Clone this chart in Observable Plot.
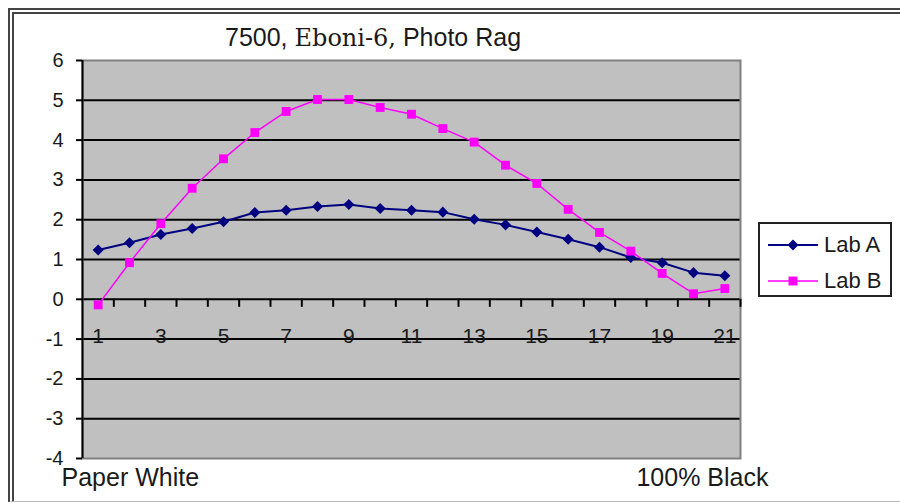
<!DOCTYPE html>
<html>
<head>
<meta charset="utf-8">
<script src="https://cdn.jsdelivr.net/npm/d3@7"></script>
<script src="https://cdn.jsdelivr.net/npm/@observablehq/plot@0.6"></script>
<style>
  html, body { margin: 0; padding: 0; background: #fff; }
  #wrap { position: relative; width: 900px; height: 504px; overflow: hidden; background: #fff;
          font-family: "Liberation Sans", Arial, sans-serif; color: #1a1a1a; }
  #wrap svg.chart { position: absolute; left: 0; top: 0; }
  #border { position: absolute; left: 8px; top: 8px; width: 920px; height: 494px; box-sizing: border-box;
            border-top: 6px double #444; border-left: 6px double #444; border-bottom: 1px solid #bbb; }
  #title { position: absolute; left: 225px; top: 25px; font-size: 25px; line-height: 25px; white-space: nowrap; color: #1a1a1a; }
  #title .serif { font-family: "DejaVu Serif", "Liberation Serif", serif; font-size: 24px; }
  #legend { position: absolute; left: 758px; top: 222px; width: 134px; height: 75px; box-sizing: border-box;
            border: 2px solid #222; background: #fff; }
  .lrow { position: absolute; left: 8px; height: 24px; display: flex; align-items: center; font-size: 22px; white-space: nowrap; }
  .lrow svg { margin-right: 4px; }
</style>
</head>
<body>
<div id="wrap">
  <div id="border"></div>
</div>
<script>
// ---- data ----
const categories = [1, 2, 3, 4, 5, 6, 7, 8, 9, 10, 11, 12, 13, 14, 15, 16, 17, 18, 19, 20, 21];
const labA = [1.24, 1.42, 1.63, 1.78, 1.95, 2.18, 2.24, 2.33, 2.38, 2.28, 2.24, 2.19, 2.01, 1.87, 1.69, 1.51, 1.31, 1.05, 0.92, 0.67, 0.59];
const labB = [-0.14, 0.92, 1.90, 2.79, 3.53, 4.19, 4.72, 5.02, 5.02, 4.82, 4.65, 4.29, 3.95, 3.37, 2.91, 2.26, 1.68, 1.21, 0.65, 0.14, 0.27];
const seriesNames = ["Lab A", "Lab B"];
const seriesColors = ["#000080", "#ff00ff"];
const yTicks = [-4, -3, -2, -1, 0, 1, 2, 3, 4, 5, 6];
const xTickLabels = [1, 3, 5, 7, 9, 11, 13, 15, 17, 19, 21];
const titleParts = ["7500, ", "Eboni-6,", " Photo Rag"];
const endLabels = ["Paper White", "100% Black"];

// ---- derived tables ----
const dataA = categories.map((c, i) => ({x: c, y: labA[i]}));
const dataB = categories.map((c, i) => ({x: c, y: labB[i]}));
const boundaries = categories.map(c => c + 0.5);
const gridVals = yTicks.filter(v => v > d3.min(yTicks) && v < d3.max(yTicks));

const chart = Plot.plot({
  width: 900,
  height: 504,
  marginLeft: 82,
  marginRight: 160,
  marginTop: 60,
  marginBottom: 46,
  x: {type: "linear", domain: [d3.min(categories) - 0.5, d3.max(categories) + 0.5], axis: null},
  y: {domain: [d3.min(yTicks), d3.max(yTicks)], axis: null},
  style: {fontFamily: "'Liberation Sans', Arial, sans-serif", background: "transparent", color: "#1a1a1a", overflow: "visible"},
  marks: [
    Plot.frame({fill: "#c0c0c0"}),
    Plot.ruleY(gridVals, {stroke: "#000", strokeWidth: 2}),
    Plot.frame({stroke: "#808080", strokeWidth: 2}),
    Plot.ruleX([d3.min(categories) - 0.5], {stroke: "#000", strokeWidth: 2}),
    Plot.axisY({ticks: yTicks, tickSize: 6, tickPadding: 13, fontSize: 20, stroke: "#000", strokeWidth: 2, label: null, tickFormat: d => String(d)}),
    Plot.ruleX(boundaries, {x: d => d, y1: 0, y2: 0, insetBottom: -8, stroke: "#000", strokeWidth: 2}),
    Plot.text(xTickLabels, {x: d => d, y: 0, dy: 37, text: d => String(d), fontSize: 21, fill: "#1a1a1a"}),
    Plot.line(dataA, {x: "x", y: "y", stroke: seriesColors[0], strokeWidth: 2}),
    Plot.dot(dataA, {x: "x", y: "y", symbol: "square", rotate: 45, r: 4.4, fill: seriesColors[0], stroke: "none"}),
    Plot.line(dataB, {x: "x", y: "y", stroke: seriesColors[1], strokeWidth: 1.5}),
    Plot.dot(dataB, {x: "x", y: "y", symbol: "square", r: 5, fill: seriesColors[1], stroke: "none"}),
    Plot.text([endLabels[0]], {text: d => d, frameAnchor: "bottom-left", dx: -21, dy: 27, textAnchor: "start", fontSize: 25, fill: "#1a1a1a"}),
    Plot.text([endLabels[1]], {text: d => d, frameAnchor: "bottom-right", dx: 28, dy: 27, textAnchor: "end", fontSize: 25, fill: "#1a1a1a"})
  ]
});
chart.classList.add("chart");
const wrap = document.getElementById("wrap");
wrap.insertBefore(chart, wrap.firstChild);

// ---- title ----
const title = document.createElement("div");
title.id = "title";
titleParts.forEach((t, i) => {
  const s = document.createElement("span");
  if (i === 1) s.className = "serif";
  s.textContent = t;
  title.appendChild(s);
});
wrap.appendChild(title);

// ---- legend ----
const legend = document.createElement("div");
legend.id = "legend";
seriesNames.forEach((name, i) => {
  const row = document.createElement("div");
  row.className = "lrow";
  row.style.top = (9 + i * 36) + "px";
  const ns = "http://www.w3.org/2000/svg";
  const svg = document.createElementNS(ns, "svg");
  svg.setAttribute("width", 52);
  svg.setAttribute("height", 16);
  const line = document.createElementNS(ns, "line");
  line.setAttribute("x1", 0); line.setAttribute("x2", 50);
  line.setAttribute("y1", 8); line.setAttribute("y2", 8);
  line.setAttribute("stroke", seriesColors[i]);
  line.setAttribute("stroke-width", i === 0 ? 2 : 1.5);
  svg.appendChild(line);
  const m = document.createElementNS(ns, "rect");
  const s = i === 0 ? 7.8 : 8.9;
  m.setAttribute("x", 25 - s / 2); m.setAttribute("y", 8 - s / 2);
  m.setAttribute("width", s); m.setAttribute("height", s);
  m.setAttribute("fill", seriesColors[i]);
  if (i === 0) m.setAttribute("transform", "rotate(45 25 8)");
  svg.appendChild(m);
  row.appendChild(svg);
  const label = document.createElement("span");
  label.textContent = name;
  row.appendChild(label);
  legend.appendChild(row);
});
wrap.appendChild(legend);
</script>
</body>
</html>
